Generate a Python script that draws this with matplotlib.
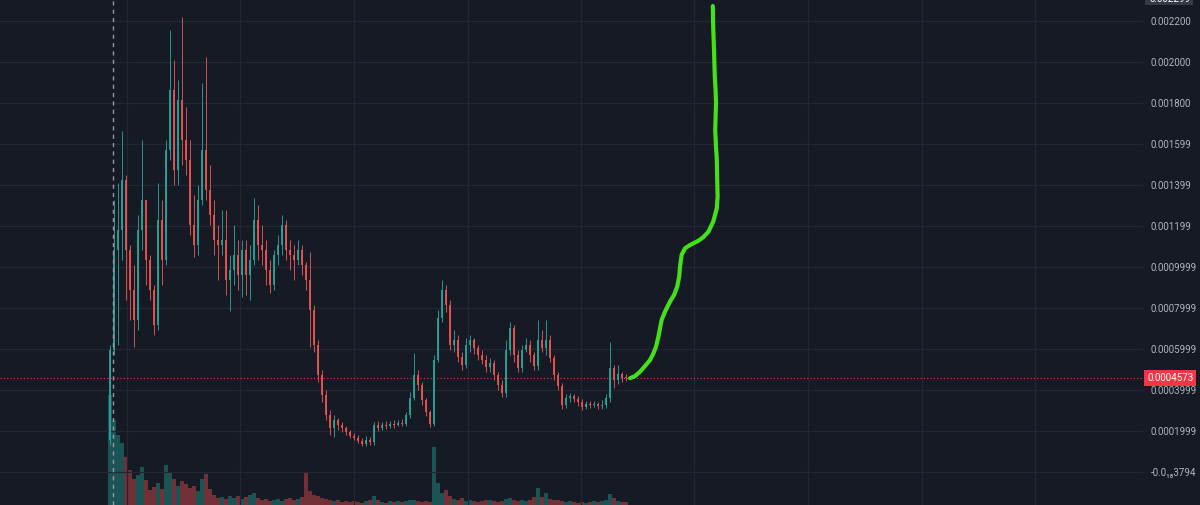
import numpy as np
import matplotlib
matplotlib.use("Agg")
import matplotlib.pyplot as plt
from matplotlib.patches import Rectangle
import matplotlib.transforms as mtransforms

# ---------------- data (prices in micro units, 1e-6) ----------------
first_open = 156
closes = [595, 1083, 1180, 1424, 1083, 888, 741, 1180, 1327, 1034,
          888, 717, 1229, 1034, 1571, 1863, 1473, 1815, 1620, 1522,
          1205, 1107, 1327, 1571, 1376, 1254, 1132, 1107, 1132, 937,
          985, 1059, 961, 1083, 961, 1034, 1229, 1107, 1083, 985,
          912, 1059, 1107, 1205, 1083, 1059, 1034, 1083, 1010, 937,
          790, 620, 473, 376, 278, 215, 254, 229, 215, 195,
          176, 166, 151, 137, 156, 146, 229, 215, 229, 224,
          234, 229, 239, 234, 278, 361, 473, 424, 351, 293,
          234, 546, 751, 888, 815, 620, 644, 561, 522, 620,
          644, 605, 571, 546, 512, 532, 473, 424, 385, 595,
          702, 571, 507, 595, 620, 571, 517, 644, 605, 644,
          556, 473, 420, 327, 361, 371, 356, 341, 317, 332,
          327, 332, 322, 327, 361, 507, 449, 478, 459, 457.3]
highs = [620, 1327, 1410, 1663, 1449, 1107, 1010, 1254, 1620, 1205,
         1059, 912, 1410, 1327, 1620, 2156, 2010, 1912, 2219, 1780,
         1620, 1351, 1400, 1898, 2024, 1498, 1327, 1205, 1278, 1278,
         1059, 1205, 1132, 1132, 1132, 1107, 1337, 1302, 1205, 1132,
         1034, 1083, 1156, 1254, 1229, 1132, 1107, 1132, 1107, 1024,
         1073, 815, 644, 498, 400, 302, 278, 263, 244, 224,
         205, 190, 180, 166, 176, 171, 244, 249, 244, 249,
         249, 254, 254, 259, 293, 390, 580, 498, 439, 361,
         302, 571, 790, 937, 912, 839, 693, 668, 585, 654,
         668, 654, 620, 595, 571, 556, 546, 488, 449, 644,
         732, 717, 595, 620, 654, 644, 585, 741, 693, 741,
         668, 571, 488, 434, 380, 385, 380, 371, 356, 346,
         346, 346, 341, 351, 380, 634, 522, 522, 488, 478]
lows = [132, 571, 620, 1034, 839, 741, 610, 693, 1083, 912,
        839, 668, 693, 912, 1010, 1522, 1400, 1400, 1498, 1449,
        1156, 1049, 1059, 1302, 1327, 1205, 1059, 937, 1059, 863,
        785, 912, 888, 854, 863, 839, 1010, 1034, 1010, 912,
        873, 888, 1010, 1059, 1034, 985, 937, 1010, 961, 888,
        610, 585, 439, 341, 254, 180, 171, 205, 195, 180,
        166, 156, 141, 127, 127, 132, 132, 200, 205, 210,
        215, 215, 224, 224, 224, 263, 351, 400, 327, 273,
        220, 224, 537, 732, 780, 595, 585, 537, 498, 507,
        585, 576, 546, 527, 488, 488, 449, 400, 366, 366,
        571, 537, 488, 488, 585, 537, 498, 498, 585, 571,
        537, 449, 400, 307, 312, 341, 341, 322, 302, 307,
        312, 317, 307, 307, 312, 341, 410, 429, 439, 444]
volumes = [110, 85, 70, 62, 48, 35, 26, 30, 38, 25,
           15, 18, 22, 16, 40, 32, 26, 19, 24, 21,
           17, 19, 14, 26, 31, 16, 10, 7, 8, 6,
           9, 7, 9, 6, 8, 10, 12, 7, 5, 6,
           4, 5, 6, 4, 6, 7, 5, 6, 8, 33,
           14, 10, 9, 7, 6, 5, 4, 5, 3, 4,
           3, 4, 3, 2, 4, 5, 9, 5, 3, 2,
           4, 3, 4, 3, 4, 5, 5, 4, 3, 4,
           3, 58, 22, 12, 15, 9, 6, 5, 7, 4,
           5, 4, 3, 4, 5, 5, 4, 3, 4, 6,
           7, 5, 4, 5, 4, 5, 8, 17, 8, 12,
           6, 5, 5, 4, 3, 4, 3, 2, 3, 2,
           3, 4, 3, 4, 5, 11, 7, 4, 3, 3]

# hand-drawn green projection (bar index, price in micro units)
proj_x = [130.0, 131.25, 132.5, 133.75, 135.0, 135.8, 136.5, 137.1, 137.5, 137.9,
          138.75, 140.0, 141.0, 141.8, 142.3, 142.5, 142.9, 143.75, 145.0, 147.1,
          148.3, 149.6, 150.8, 151.7, 151.9, 151.8, 151.7, 151.5, 151.3, 151.4,
          151.5, 151.4, 151.2, 151.0, 150.8, 150.7]
proj_y = [457.3, 468, 489, 517, 546, 576, 611, 660, 701, 741,
          782, 831, 863, 904, 953, 1001, 1059, 1091, 1107, 1128,
          1145, 1172, 1221, 1286, 1343, 1424, 1522, 1587, 1668, 1733,
          1799, 1863, 1928, 2059, 2172, 2273]

tick_values = [0.0022, 0.0020, 0.0018, 0.0016, 0.0014, 0.0012, 0.0010,
               0.0008, 0.0006, 0.0004, 0.0002, 0.0]
tick_labels = ['0.002200', '0.002000', '0.001800', '0.001599', '0.001399',
               '0.001199', '0.0009999', '0.0007999', '0.0005999',
               '0.0003999', '0.0001999', '-0.0\u2081\u20883794']
last_price = 0.0004573
last_label = '0.0004573'
top_label = '0.002299'
marker_index = 0.75
vgrid_index = [4.25, 32.6, 61.0, 89.4, 117.75, 146.1, 174.5, 202.9, 231.25]

# ---------------- styling ----------------
BG = '#161a25'
GRID = '#232733'
UP = '#26a69a'
DOWN = '#ef5350'
TXT = '#b2b5be'
FONT = ['Roboto', 'DejaVu Sans']
FS = 7.0
W, H = 1200, 505

scale = 1e-6
o = np.array([first_open] + closes[:-1]) * scale
c = np.array(closes) * scale
hi = np.array(highs) * scale
lo = np.array(lows) * scale
vol = np.array(volumes, dtype=float)
idx = np.arange(len(c))
up = c >= o
cols = np.where(up, UP, DOWN)

fig = plt.figure(figsize=(W / 100, H / 100), dpi=100, facecolor=BG)
plot_w = 1143 / W
axv = fig.add_axes([0, 0, plot_w, 1])
ax = fig.add_axes([0, 0, plot_w, 1], sharex=axv)
axv.set_facecolor(BG)
ax.set_facecolor('none')
axv.set_zorder(0)
ax.set_zorder(1)

ax.set_xlim(-110 / 4, (1143 - 110) / 4)
ax.set_ylim(-0.000161, 0.0023024)
axv.set_ylim(0, H)

# grid
for t in tick_values:
    ax.axhline(t, color=GRID, lw=0.9, zorder=0)
for gx in vgrid_index:
    ax.axvline(gx, color=GRID, lw=0.9, zorder=0)

# volume
axv.bar(idx, vol, width=0.8, color=cols, alpha=0.42, linewidth=0)

# candles
ax.vlines(idx, lo, hi, colors=cols, lw=0.7, alpha=0.9, zorder=3)
body_lo = np.minimum(o, c)
body_h = np.maximum(np.abs(c - o), 0.000004)
ax.bar(idx, body_h, bottom=body_lo, width=0.5, color=cols, alpha=0.9,
       linewidth=0, zorder=4)

# last price dotted line
ax.axhline(last_price, color='#f23645', lw=0.8, ls=(0, (1, 2)), zorder=2)

# dashed vertical marker
ax.axvline(marker_index, color='#9598a1', lw=1.0, ls=(0, (3, 3)), zorder=5)

# green hand-drawn line
ax.plot(np.array(proj_x), np.array(proj_y) * scale, color='#46e01a', lw=3.0,
        solid_capstyle='round', solid_joinstyle='round', zorder=6)

for a in (ax, axv):
    for s in a.spines.values():
        s.set_visible(False)
    a.tick_params(length=0)
axv.set_xticks([])
axv.set_yticks([])
ax.set_xticks([])

ax.yaxis.tick_right()
ax.set_yticks(tick_values)
ax.set_yticklabels(tick_labels)
ax.tick_params(axis='y', colors=TXT, labelsize=FS, pad=5.5)
for lab in ax.get_yticklabels():
    lab.set_horizontalalignment('left')
    lab.set_family(FONT)

# last price label
trans = mtransforms.blended_transform_factory(ax.transAxes, ax.transData)
ax.text(1.0 + 4.0 / 1143, last_price, last_label, transform=trans,
        color='white', fontsize=FS, family=FONT, va='center', ha='left', zorder=10,
        bbox=dict(boxstyle='square,pad=0.3', fc='#f23645', ec='none'),
        clip_on=False)

# cut-off crosshair label at the top
fig.patches.append(Rectangle((1145 / W, 1 - 5 / H), 48 / W, 10 / H,
                             transform=fig.transFigure, fc='#363a45', ec='none'))
fig.text(1149 / W, 1 + 1 / H, top_label, color='white', fontsize=FS,
         family=FONT, va='center', ha='left')

fig.savefig('out.png', dpi=100, facecolor=BG)
